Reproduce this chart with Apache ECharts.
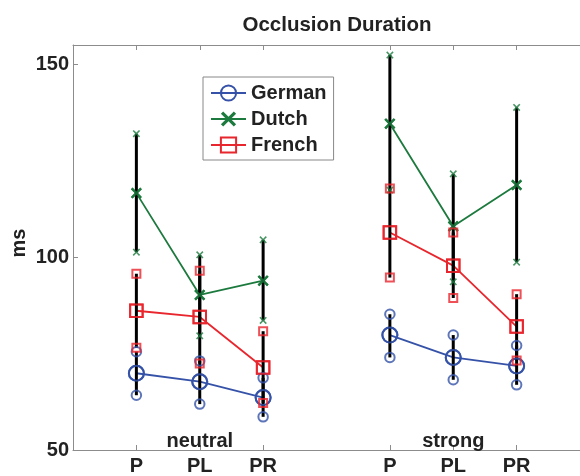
<!DOCTYPE html>
<html>
<head>
<meta charset="utf-8">
<script src="https://cdn.jsdelivr.net/npm/echarts@6/dist/echarts.min.js"></script>
<style>html,body{margin:0;padding:0;background:#fff;}#c{width:580px;height:476px;}</style>
</head>
<body>
<div id="c"></div>
<script>
// ---- data ----
var xPos = [1, 2, 3, 5, 6, 7];
var tickLabels = ['P', 'PL', 'PR', 'P', 'PL', 'PR'];
var groupOf = [0, 0, 0, 1, 1, 1];
var groupNames = ['neutral', 'strong'];
var groupCenters = [2, 6];
var yTicks = [50, 100, 150];

var germanMean = [69.9, 67.7, 63.6, 79.8, 74.0, 71.8];
var germanLow  = [64.2, 61.9, 58.6, 74.0, 68.2, 66.9];
var germanHigh = [75.5, 73.1, 68.7, 85.2, 79.8, 77.1];

var dutchMean = [116.6, 90.2, 93.9, 134.6, 108.0, 118.7];
var dutchLow  = [101.3, 79.6, 83.6, 117.4, 93.6, 98.7];
var dutchHigh = [132.0, 100.6, 104.5, 152.4, 121.6, 138.8];

var frenchMean = [86.1, 84.5, 71.4, 106.4, 97.8, 82.0];
var frenchLow  = [76.5, 72.4, 62.2, 94.7, 89.4, 73.2];
var frenchHigh = [95.7, 96.5, 80.8, 117.8, 106.4, 90.4];

// ---- styles ----
var FONT = 'Liberation Sans, Arial, sans-serif';
var TXT = '#222';
var AX = '#8c8c8c';
var XPATH = 'path://M1.5,0L5,3.5L8.5,0L10,1.5L6.5,5L10,8.5L8.5,10L5,6.5L1.5,10L0,8.5L3.5,5L0,1.5Z';

var langs = [
  {name: 'German', mean: germanMean, low: germanLow, high: germanHigh, color: '#3552a8', symbol: 'circle', big: 15, small: 9.5, hollow: true},
  {name: 'Dutch',  mean: dutchMean,  low: dutchLow,  high: dutchHigh,  color: '#1d7a3e', symbol: XPATH, big: 11, small: 7.5, hollow: false},
  {name: 'French', mean: frenchMean, low: frenchLow, high: frenchHigh, color: '#e8262d', symbol: 'rect', big: 12.5, small: 8, hollow: true}
];

function markerStyle(l) {
  return l.hollow ? {color: 'rgba(0,0,0,0)', borderColor: l.color, borderWidth: 2}
                  : {color: l.color, borderWidth: 0};
}

var series = [];
langs.forEach(function (l) {
  var lineData = [];
  for (var i = 0; i < xPos.length; i++) {
    if (i > 0 && groupOf[i] !== groupOf[i - 1]) lineData.push([(xPos[i] + xPos[i - 1]) / 2, '-']);
    lineData.push([xPos[i], l.mean[i]]);
  }
  series.push({
    name: l.name, type: 'line', data: lineData, connectNulls: false,
    symbol: l.symbol, symbolSize: l.big, showSymbol: true,
    lineStyle: {color: l.color, width: 1.8},
    itemStyle: markerStyle(l),
    z: 2, silent: true, animation: false
  });
});
// black error bars
langs.forEach(function (l) {
  var d = xPos.map(function (x, i) { return [x, l.low[i], l.high[i]]; });
  series.push({
    type: 'custom', data: d, z: 3, silent: true, animation: false,
    renderItem: function (params, api) {
      var p1 = api.coord([api.value(0), api.value(1)]);
      var p2 = api.coord([api.value(0), api.value(2)]);
      return {type: 'line', shape: {x1: p1[0], y1: p1[1], x2: p2[0], y2: p2[1]},
              style: {stroke: '#000', lineWidth: 3}};
    }
  });
});
// markers on top
langs.forEach(function (l) {
  series.push({
    type: 'scatter', data: xPos.map(function (x, i) { return [x, l.mean[i]]; }),
    symbol: l.symbol, symbolSize: l.big, itemStyle: markerStyle(l), z: 4, silent: true, animation: false
  });
  var ends = [];
  xPos.forEach(function (x, i) { ends.push([x, l.low[i]]); ends.push([x, l.high[i]]); });
  series.push({
    type: 'scatter', data: ends,
    symbol: l.symbol, symbolSize: l.small, itemStyle: markerStyle(l), z: 4, silent: true, animation: false
  });
});

var chart = echarts.init(document.getElementById('c'), null, {renderer: 'canvas'});
var option = {
  animation: false,
  backgroundColor: '#fff',
  title: {
    text: 'Occlusion Duration', left: 332, top: 10, textAlign: 'center',
    textStyle: {fontFamily: FONT, fontSize: 20.5, fontWeight: 'bold', color: TXT}
  },
  legend: {
    data: langs.map(function (l) { return l.name; }),
    orient: 'vertical', left: 203, top: 77,
    padding: [6, 7, 5, 7], itemGap: 6, itemWidth: 35, itemHeight: 19,
    backgroundColor: '#fff', borderColor: '#888', borderWidth: 1,
    textStyle: {fontFamily: FONT, fontSize: 20, fontWeight: 'bold', color: TXT, lineHeight: 20},
    selectedMode: false
  },
  grid: {left: 73, top: 45, width: 517, height: 407, containLabel: false},
  xAxis: [{
    type: 'value', min: 0, max: 8, interval: 1, position: 'bottom',
    axisLine: {show: true, lineStyle: {color: AX, width: 1}},
    axisTick: {show: true, inside: true, length: 5, lineStyle: {color: AX}, customValues: xPos},
    axisLabel: {show: true, margin: 6, customValues: xPos,
      formatter: function (v) { var k = xPos.indexOf(v); return k >= 0 ? tickLabels[k] : ''; },
      fontFamily: FONT, fontSize: 20, fontWeight: 'bold', color: TXT},
    splitLine: {show: false}
  }, {
    type: 'value', min: 0, max: 8, interval: 1, position: 'top',
    axisLine: {show: true, lineStyle: {color: AX, width: 1}},
    axisTick: {show: true, inside: true, length: 5, lineStyle: {color: AX}, customValues: xPos},
    axisLabel: {show: false},
    splitLine: {show: false}
  }],
  yAxis: [{
    type: 'value', min: 50, max: 155, interval: 50,
    axisLine: {show: true, lineStyle: {color: AX, width: 1}},
    axisTick: {show: true, inside: true, length: 5, lineStyle: {color: AX}, customValues: yTicks},
    axisLabel: {show: true, margin: 4, customValues: yTicks,
      fontFamily: FONT, fontSize: 20, fontWeight: 'bold', color: TXT},
    splitLine: {show: false}
  }],
  series: series
};
chart.setOption(option);

var gfx = [{
  type: 'text', x: 19, y: 243, rotation: Math.PI / 2,
  style: {text: 'ms', fontFamily: FONT, fontSize: 20, fontWeight: 'bold', fill: TXT, align: 'center', verticalAlign: 'middle'}
}];
groupNames.forEach(function (g, i) {
  var px = chart.convertToPixel({xAxisIndex: 0}, groupCenters[i]);
  gfx.push({
    type: 'text', x: px, y: 441, z: 10,
    style: {text: g, fontFamily: FONT, fontSize: 20, fontWeight: 'bold', fill: TXT, align: 'center', verticalAlign: 'middle'}
  });
});
chart.setOption({graphic: gfx});
</script>
</body>
</html>
